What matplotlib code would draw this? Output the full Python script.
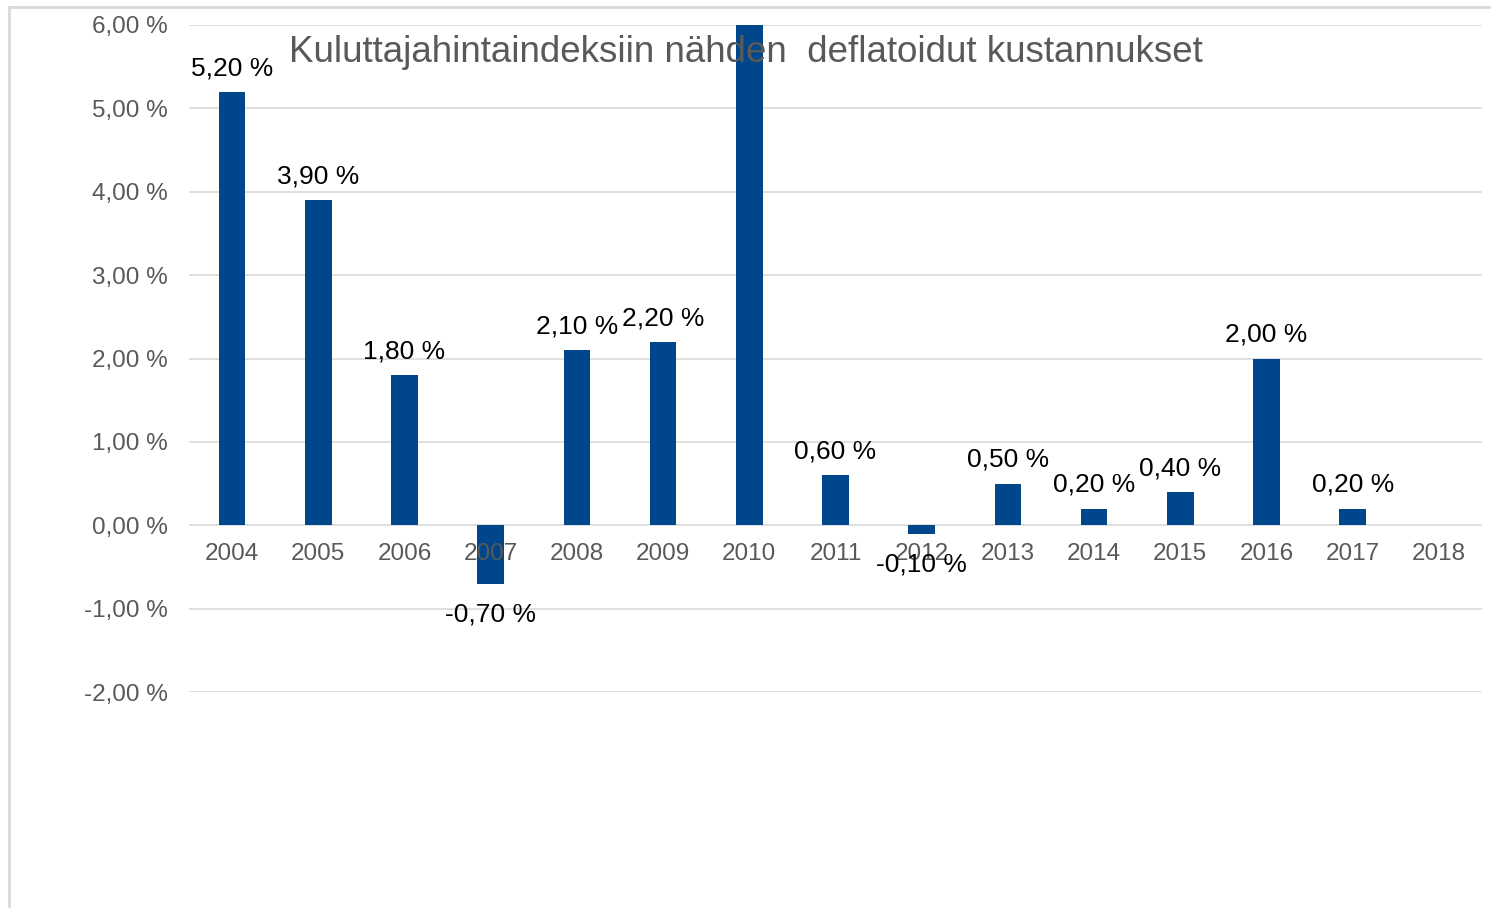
import numpy as np
import matplotlib.pyplot as plt
from matplotlib.lines import Line2D

plt.rcParams['font.family'] = ['Liberation Sans', 'DejaVu Sans']

# data
years = ['2004', '2005', '2006', '2007', '2008', '2009', '2010', '2011',
         '2012', '2013', '2014', '2015', '2016', '2017', '2018']
values = [5.2, 3.9, 1.8, -0.7, 2.1, 2.2, 7.0, 0.6,
          -0.1, 0.5, 0.2, 0.4, 2.0, 0.2, np.nan]
yticks = [-2, -1, 0, 1, 2, 3, 4, 5, 6]

title = "Kuluttajahintaindeksiin nähden  deflatoidut kustannukset"
bar_color = '#00468b'
grid_color = '#d9d9d9'
text_gray = '#595959'


def fmt(v):
    return "{:.2f} %".format(v).replace('.', ',')


fig = plt.figure(figsize=(14.91, 9.08), dpi=100)
W, H = 1491, 908
ax = fig.add_axes([189 / W, 1 - 692 / H, (1482 - 189) / W, (692 - 25) / H])

x = np.arange(len(years))
ax.bar(x, values, width=0.31, color=bar_color, zorder=3)

ax.set_xlim(-0.5, len(years) - 0.5)
ax.set_ylim(-2, 6)
ax.set_yticks(yticks)
ax.set_yticklabels([fmt(t) for t in yticks], color=text_gray, fontsize=17.5)
ax.tick_params(axis='y', length=0, pad=15)
ax.grid(axis='y', color=grid_color, linewidth=1.2, zorder=0)
ax.set_xticks([])
for s in ax.spines.values():
    s.set_visible(False)

# year labels just below the zero line
for xi, yr in zip(x, years):
    ax.annotate(yr, (xi, 0), xytext=(0, -21), textcoords='offset points',
                ha='center', va='center', fontsize=17.5, color=text_gray, zorder=4)

# data labels
for xi, v in zip(x, values):
    if np.isnan(v) or v > 6:
        continue
    off = 17 if v >= 0 else -22
    ax.annotate(fmt(v), (xi, v), xytext=(0, off), textcoords='offset points',
                ha='center', va='center', fontsize=19, color='black', zorder=5)

fig.text(0.5, 1 - 52 / H, title, ha='center', va='center', fontsize=26.5,
         color=text_gray, zorder=10)

# chart border
fig.add_artist(Line2D([10 / W, 1], [1 - 7 / H, 1 - 7 / H], color=grid_color, lw=2))
fig.add_artist(Line2D([9 / W, 9 / W], [0, 1 - 7 / H], color=grid_color, lw=2))

fig.savefig('out.png', dpi=100)
